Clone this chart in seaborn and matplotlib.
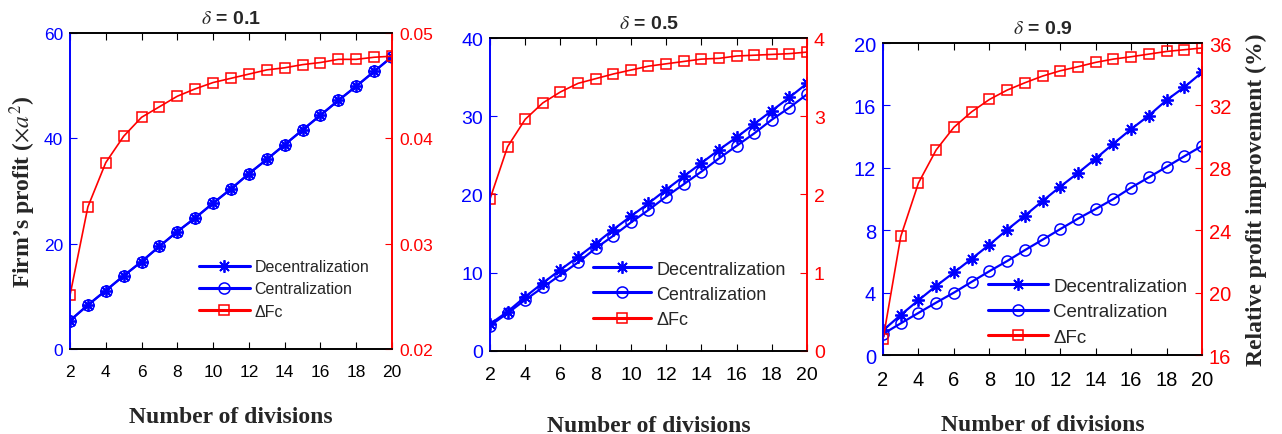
import numpy as np
import pandas as pd
import seaborn as sns
import matplotlib.pyplot as plt

divisions = list(range(2, 21))

# delta = 0.1 (decentralized and centralized profits coincide)
dec_01 = [5.4, 8.35, 11.1, 13.9, 16.6, 19.5, 22.3, 24.9, 27.7, 30.4,
          33.3, 36.0, 38.8, 41.6, 44.4, 47.2, 49.9, 52.7, 55.5]
cen_01 = [5.4, 8.35, 11.1, 13.9, 16.6, 19.5, 22.3, 24.9, 27.7, 30.4,
          33.3, 36.0, 38.8, 41.6, 44.4, 47.2, 49.9, 52.7, 55.5]
dfc_01 = [0.0251, 0.0335, 0.0377, 0.0402, 0.0420, 0.0430, 0.0440, 0.0447,
          0.0453, 0.0457, 0.0461, 0.0465, 0.0467, 0.0470, 0.0472, 0.0475,
          0.0475, 0.0477, 0.0478]

# delta = 0.5
dec_05 = [3.4, 5.0, 6.9, 8.66, 10.36, 12.0, 13.7, 15.5, 17.2, 18.85,
          20.6, 22.3, 24.0, 25.7, 27.3, 29.0, 30.7, 32.4, 34.2]
cen_05 = [3.2, 4.8, 6.5, 8.1, 9.7, 11.3, 13.1, 14.7, 16.4, 18.0,
          19.7, 21.3, 22.9, 24.6, 26.2, 27.8, 29.55, 31.1, 32.8]
dfc_05 = [1.94, 2.61, 2.96, 3.17, 3.31, 3.42, 3.48, 3.54, 3.59, 3.64,
          3.67, 3.70, 3.73, 3.74, 3.77, 3.78, 3.79, 3.80, 3.82]

# delta = 0.9
dec_09 = [1.58, 2.57, 3.51, 4.43, 5.29, 6.17, 7.07, 8.03, 8.93, 9.87,
          10.79, 11.67, 12.59, 13.55, 14.48, 15.35, 16.34, 17.17, 18.12]
cen_09 = [1.35, 2.03, 2.70, 3.36, 4.0, 4.69, 5.37, 6.02, 6.72, 7.39,
          8.07, 8.74, 9.36, 10.0, 10.73, 11.39, 12.06, 12.74, 13.40]
dfc_09 = [17.0, 23.6, 27.03, 29.15, 30.6, 31.59, 32.38, 32.98, 33.45, 33.88,
          34.22, 34.48, 34.76, 34.97, 35.12, 35.29, 35.46, 35.57, 35.68]

titles = ['0.1', '0.5', '0.9']
left_lims = [(0, 60), (0, 40), (0, 20)]
left_ticks = [[0, 20, 40, 60], [0, 10, 20, 30, 40], [0, 4, 8, 12, 16, 20]]
right_lims = [(0.02, 0.05), (0, 4), (16, 36)]
right_ticks = [[0.02, 0.03, 0.04, 0.05], [0, 1, 2, 3, 4], [16, 20, 24, 28, 32, 36]]
right_fmt = ['{:.2f}', '{:g}', '{:g}']

sns.set_style('ticks')
plt.rcParams['font.family'] = ['Liberation Sans', 'DejaVu Sans']
plt.rcParams['mathtext.fontset'] = 'stix'

fig = plt.figure(figsize=(12.82, 4.35), dpi=100)
boxes = [[0.0546, 0.1954, 0.2512, 0.7264],
         [0.3822, 0.1915, 0.2473, 0.7188],
         [0.6888, 0.1816, 0.2488, 0.7172]]
tick_fs = [12.5, 14, 14.5]
leg_fs = [11.5, 13, 13.5]
leg_pos = [(0.38, 0.076), (0.302, 0.05), (0.304, 0.005)]
xpad = [11, 11, 11]
xlabelpad = [19, 23, 18]

blue = '#0000FF'
red = '#FF0000'
serif = ['Liberation Serif', 'DejaVu Serif']

panels = [(dec_01, cen_01, dfc_01), (dec_05, cen_05, dfc_05), (dec_09, cen_09, dfc_09)]

for i, (dec, cen, dfc) in enumerate(panels):
    df = pd.DataFrame({'n': divisions, 'dec': dec, 'cen': cen, 'dfc': dfc})
    ax = fig.add_axes(boxes[i])
    ax2 = ax.twinx()

    sns.lineplot(data=df, x='n', y='dec', ax=ax, color=blue, linewidth=1.6,
                 marker=(8, 2, 0), markersize=9, markeredgewidth=1.3,
                 markeredgecolor=blue)
    h1 = ax.lines[-1]
    sns.lineplot(data=df, x='n', y='cen', ax=ax, color=blue, linewidth=1.6,
                 marker='o', markersize=8, markerfacecolor='none',
                 markeredgewidth=1.1, markeredgecolor=blue)
    h2 = ax.lines[-1]
    sns.lineplot(data=df, x='n', y='dfc', ax=ax2, color=red, linewidth=1.2,
                 marker='s', markersize=7, markerfacecolor='none',
                 markeredgewidth=1.1, markeredgecolor=red)
    h3 = ax2.lines[-1]

    ax.set_xlim(2, 20)
    ax.set_xticks(range(2, 21, 2))
    ax.set_ylim(*left_lims[i])
    ax.set_yticks(left_ticks[i])
    ax2.set_ylim(*right_lims[i])
    ax2.set_yticks(right_ticks[i])
    ax2.set_yticklabels([right_fmt[i].format(t) for t in right_ticks[i]])

    ax.tick_params(axis='x', direction='in', top=True, length=5, colors='black',
                   labelsize=tick_fs[i], pad=xpad[i])
    ax.tick_params(axis='y', direction='in', length=5, colors=blue,
                   labelsize=tick_fs[i], pad=5)
    ax2.tick_params(axis='y', direction='in', length=5, colors=red,
                    labelsize=tick_fs[i], pad=5)

    for a in (ax, ax2):
        a.spines['left'].set_color(blue)
        a.spines['right'].set_color(red)
        a.spines['top'].set_color('black')
        a.spines['bottom'].set_color('black')
        for s in a.spines.values():
            s.set_linewidth(1.2)
            s.set_visible(True)
    ax.set_ylabel('')
    ax2.set_ylabel('')
    ax.set_xlabel('Number of divisions', family=serif, fontweight='bold',
                  fontsize=17, labelpad=xlabelpad[i])
    ax.set_title(r'$\delta$ = ' + titles[i], fontweight='bold', fontsize=14, pad=7)

    leg = ax2.legend([h1, h2, h3], ['Decentralization', 'Centralization', '\u0394Fc'],
                     loc='lower left', bbox_to_anchor=leg_pos[i], frameon=False,
                     fontsize=leg_fs[i], handlelength=3.2, handletextpad=0.3,
                     labelspacing=0.45, borderaxespad=0)
    for ln in leg.get_lines():
        ln.set_linewidth(2.2)

    if i == 0:
        ax.set_ylabel('Firm\u2019s profit ($\\times a^2$)', family=serif,
                      fontweight='bold', fontsize=17, labelpad=4)
    if i == 2:
        ax2.set_ylabel('Relative profit improvement (%)', family=serif,
                       fontweight='bold', fontsize=17, labelpad=10)

fig.savefig('out.png', dpi=100)
